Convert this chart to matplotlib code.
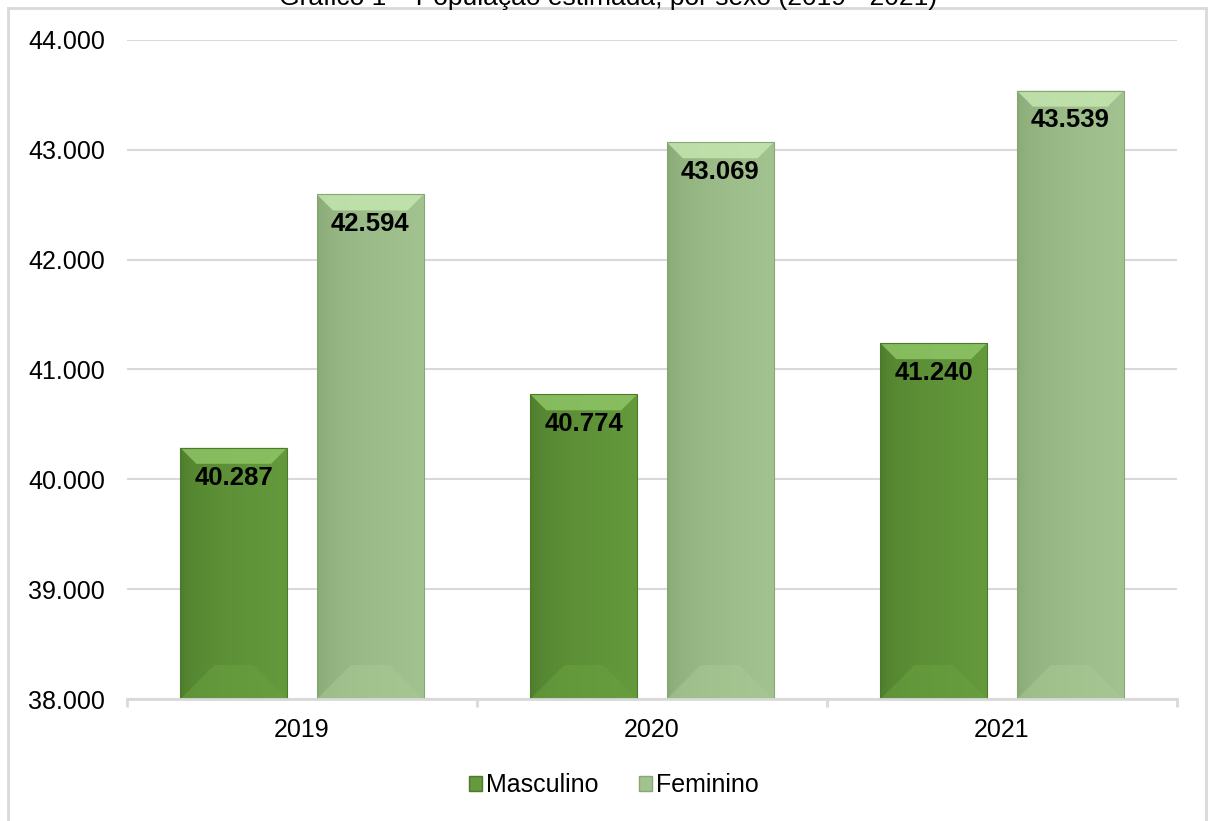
import matplotlib.pyplot as plt
import matplotlib.patches as mpatches
from matplotlib.lines import Line2D
from matplotlib.colors import LinearSegmentedColormap
import numpy as np

plt.rcParams['font.family'] = ['Liberation Sans', 'DejaVu Sans']

anos = ['2019', '2020', '2021']
masculino = [40287, 40774, 41240]
feminino = [42594, 43069, 43539]
series_names = ['Masculino', 'Feminino']

# colours: (left shade, main, top bevel, bottom bevel)
cores = {
    'Masculino': ('#4c7a2a', '#64993c', '#8ec566', '#6aa241'),
    'Feminino': ('#86a673', '#a2c38f', '#c6e6b0', '#a9ca95'),
}

W, H = 1208, 821
fig = plt.figure(figsize=(W / 100, H / 100), dpi=100)
ax = fig.add_axes([127 / W, 1 - 699 / H, 1050 / W, 659 / H])

ymin, ymax = 38000, 44000
x = np.arange(len(anos))
width = 0.305
offset = 0.195

# pixel -> data helpers (axis is 1050 px wide for 3 categories, 659 px tall for 6000)
px_x = 3 / 1050
px_y = (ymax - ymin) / 659


def fancy_bar(xc, val, cols):
    left, main, top, bottom = cols
    x0, x1 = xc - width / 2, xc + width / 2
    rect = mpatches.Rectangle((x0, ymin), width, val - ymin, facecolor=main,
                              edgecolor='none', zorder=2)
    ax.add_patch(rect)
    # horizontal gradient (darker at left)
    grad = np.linspace(0, 1, 64).reshape(1, -1) ** 0.4
    cm = LinearSegmentedColormap.from_list('g', [left, main])
    im = ax.imshow(grad, extent=[x0, x1, ymin, val], aspect='auto', cmap=cm,
                   zorder=2.1, interpolation='bilinear')
    im.set_clip_path(rect)
    # top bevel
    bh = 16
    tb = mpatches.Polygon([(x0, val), (x1, val), (x1 - bh * px_x, val - bh * px_y),
                           (x0 + bh * px_x, val - bh * px_y)],
                          closed=True, facecolor=top, edgecolor='none', alpha=0.85,
                          zorder=2.2)
    ax.add_patch(tb)
    # bottom bevel
    bb = 34
    bp = mpatches.Polygon([(x0, ymin), (x1, ymin), (x1 - bb * px_x, ymin + bb * px_y),
                           (x0 + bb * px_x, ymin + bb * px_y)],
                          closed=True, facecolor=bottom, edgecolor='none', alpha=0.5,
                          zorder=2.2)
    ax.add_patch(bp)
    ax.add_patch(mpatches.Rectangle((x0, ymin), width, val - ymin, facecolor='none',
                                    edgecolor=left, linewidth=0.8, zorder=2.3))
    ax.annotate(f'{val:,}'.replace(',', '.'), (xc, val), xytext=(0, -21.5),
                textcoords='offset points', ha='center', va='center',
                fontsize=18.5, fontweight='bold', color='black', zorder=3)


for i in range(len(anos)):
    fancy_bar(x[i] - offset, masculino[i], cores['Masculino'])
    fancy_bar(x[i] + offset, feminino[i], cores['Feminino'])

ax.set_xlim(-0.5, 2.5)
ax.set_ylim(ymin, ymax)
yt = np.arange(ymin, ymax + 1, 1000)
ax.set_yticks(yt)
ax.set_yticklabels([f'{v:,}'.replace(',', '.') for v in yt], fontsize=18)
ax.set_xticks(x)
ax.set_xticklabels(anos, fontsize=18)
ax.tick_params(axis='y', length=0, pad=16)
ax.tick_params(axis='x', length=0, pad=14)
ax.set_xticks([-0.5, 0.5, 1.5, 2.5], minor=True)
ax.tick_params(axis='x', which='minor', length=6, width=2, color='#d9d9d9')
ax.grid(axis='y', color='#d9d9d9', linewidth=1.5, zorder=0)
ax.set_axisbelow(True)
for s in ['top', 'right', 'left']:
    ax.spines[s].set_visible(False)
ax.spines['bottom'].set_color('#d9d9d9')
ax.spines['bottom'].set_linewidth(2)

# legend
handles = [mpatches.Patch(facecolor=cores[n][1], edgecolor=cores[n][0]) for n in series_names]
fig.legend(handles, series_names, loc='center', bbox_to_anchor=(0.508, 1 - 785 / H),
           ncol=2, frameon=False, fontsize=18, handlelength=0.55, handleheight=0.55,
           handletextpad=0.15, columnspacing=1.6)

# outer frame (bottom edge lies outside the image)
fc = '#d9d9d9'
fig.add_artist(Line2D([8 / W, 8 / W], [0, 1 - 8 / H], color=fc, linewidth=2))
fig.add_artist(Line2D([8 / W, 1206 / W], [1 - 8 / H, 1 - 8 / H], color=fc, linewidth=2))
fig.add_artist(Line2D([1206 / W, 1206 / W], [0, 1 - 8 / H], color=fc, linewidth=2))

# title, clipped at the top edge as in the source
fig.text(608 / W, 1 - 5 / H, 'Gráfico 1 – População estimada, por sexo (2019 - 2021)',
         ha='center', va='baseline', fontsize=19, color='black')

fig.savefig('out.png', dpi=100)
